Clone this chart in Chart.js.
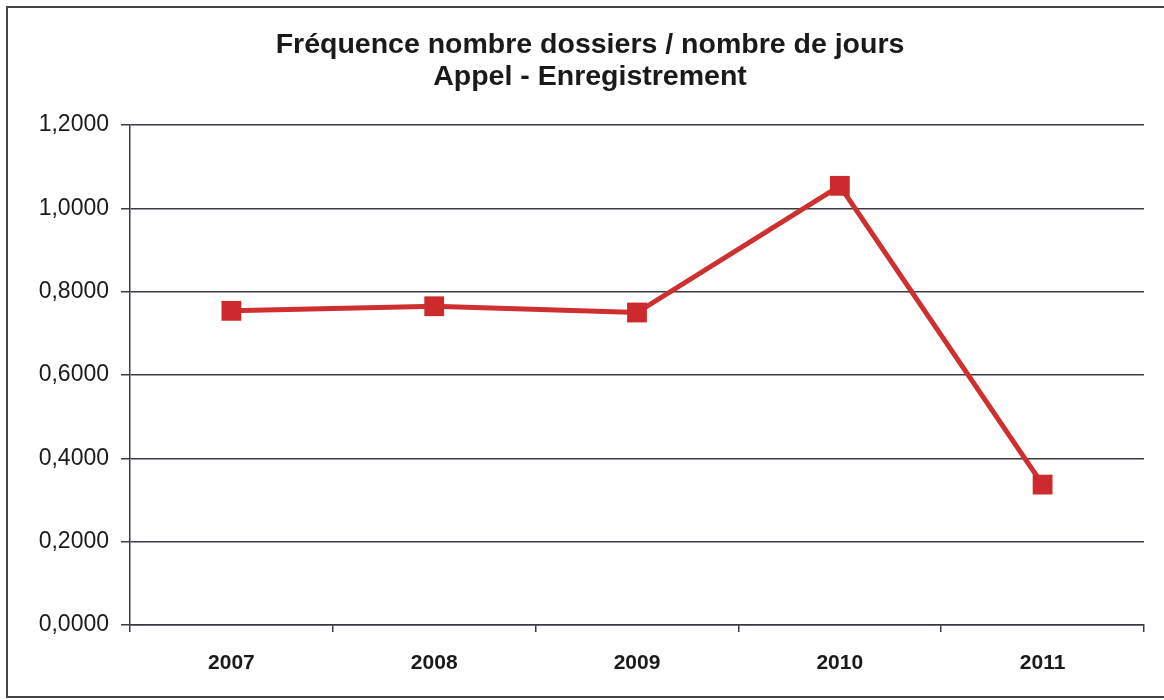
<!DOCTYPE html>
<html>
<head>
<meta charset="utf-8">
<script src="https://cdn.jsdelivr.net/npm/chart.js@4/dist/chart.umd.min.js"></script>
<style>
    html, body { margin: 0; padding: 0; background: #fff; }
    #wrap { width: 1164px; height: 700px; }
</style>
</head>
<body>
<div id="wrap"><canvas id="freqChart" width="1164" height="700"></canvas></div>
<script>
// Données
var annees = ['2007', '2008', '2009', '2010', '2011'];
var frequences = [0.754, 0.765, 0.750, 1.054, 0.337];
var titre = ['Fréquence nombre dossiers / nombre de jours', 'Appel - Enregistrement'];

var rouge = '#cf2f2f';
var gris = '#3a3a44';

// cadre autour du graphique, fond blanc et titre (centré comme dans l'original)
var cadre = {
    id: 'cadre',
    beforeDraw: function(chart) {
        var ctx = chart.ctx;
        ctx.save();
        ctx.fillStyle = '#fff';
        ctx.fillRect(0, 0, chart.width, chart.height);
        ctx.restore();
    },
    afterDraw: function(chart) {
        var ctx = chart.ctx;
        ctx.save();
        ctx.strokeStyle = '#444';
        ctx.lineWidth = 2;
        ctx.strokeRect(7, 7, 1170, 690);

        ctx.fillStyle = '#1a1a1a';
        ctx.font = 'bold 28.5px "Liberation Sans"';
        ctx.textAlign = 'center';
        ctx.textBaseline = 'middle';
        titre.forEach(function(ligne, i) {
            ctx.fillText(ligne, 590, 45 + i * 32);
        });
        ctx.restore();
    }
};

var ctx = document.getElementById('freqChart').getContext('2d');
var chart = new Chart(ctx, {
    type: 'line',
    data: {
        labels: annees,
        datasets: [{
            data: frequences,
            borderColor: rouge,
            backgroundColor: '#cc2a2c',
            borderWidth: 5,
            pointStyle: 'rect',
            pointRadius: 14,
            pointBorderWidth: 0,
            pointBackgroundColor: '#cc2a2c',
            tension: 0,
            fill: false
        }]
    },
    options: {
        responsive: false,
        animation: false,
        devicePixelRatio: 1,
        layout: { padding: { left: 0, right: 20, top: 125, bottom: 0 } },
        plugins: {
            legend: { display: false },
            tooltip: { enabled: false },
            title: { display: false }
        },
        scales: {
            x: {
                offset: true,
                grid: {
                    offset: true,
                    drawOnChartArea: false,
                    drawTicks: true,
                    tickLength: 7,
                    color: gris,
                    lineWidth: 1.5
                },
                border: { display: true, color: gris, width: 1.5 },
                ticks: {
                    color: '#1a1a1a',
                    padding: 19,
                    font: { family: 'Liberation Sans', size: 21, weight: 'bold' }
                },
                afterFit: function(scale) { scale.height = 75; }
            },
            y: {
                min: 0,
                max: 1.2,
                ticks: {
                    stepSize: 0.2,
                    color: '#1a1a1a',
                    padding: 12,
                    font: { family: 'Liberation Sans', size: 23 },
                    callback: function(v) { return Number(v).toFixed(4).replace('.', ','); }
                },
                grid: {
                    color: gris,
                    lineWidth: 1.5,
                    drawTicks: true,
                    tickLength: 9
                },
                border: { display: true, color: gris, width: 1.5 },
                afterFit: function(scale) { scale.width = 130; }
            }
        }
    },
    plugins: [cadre]
});
</script>
</body>
</html>
